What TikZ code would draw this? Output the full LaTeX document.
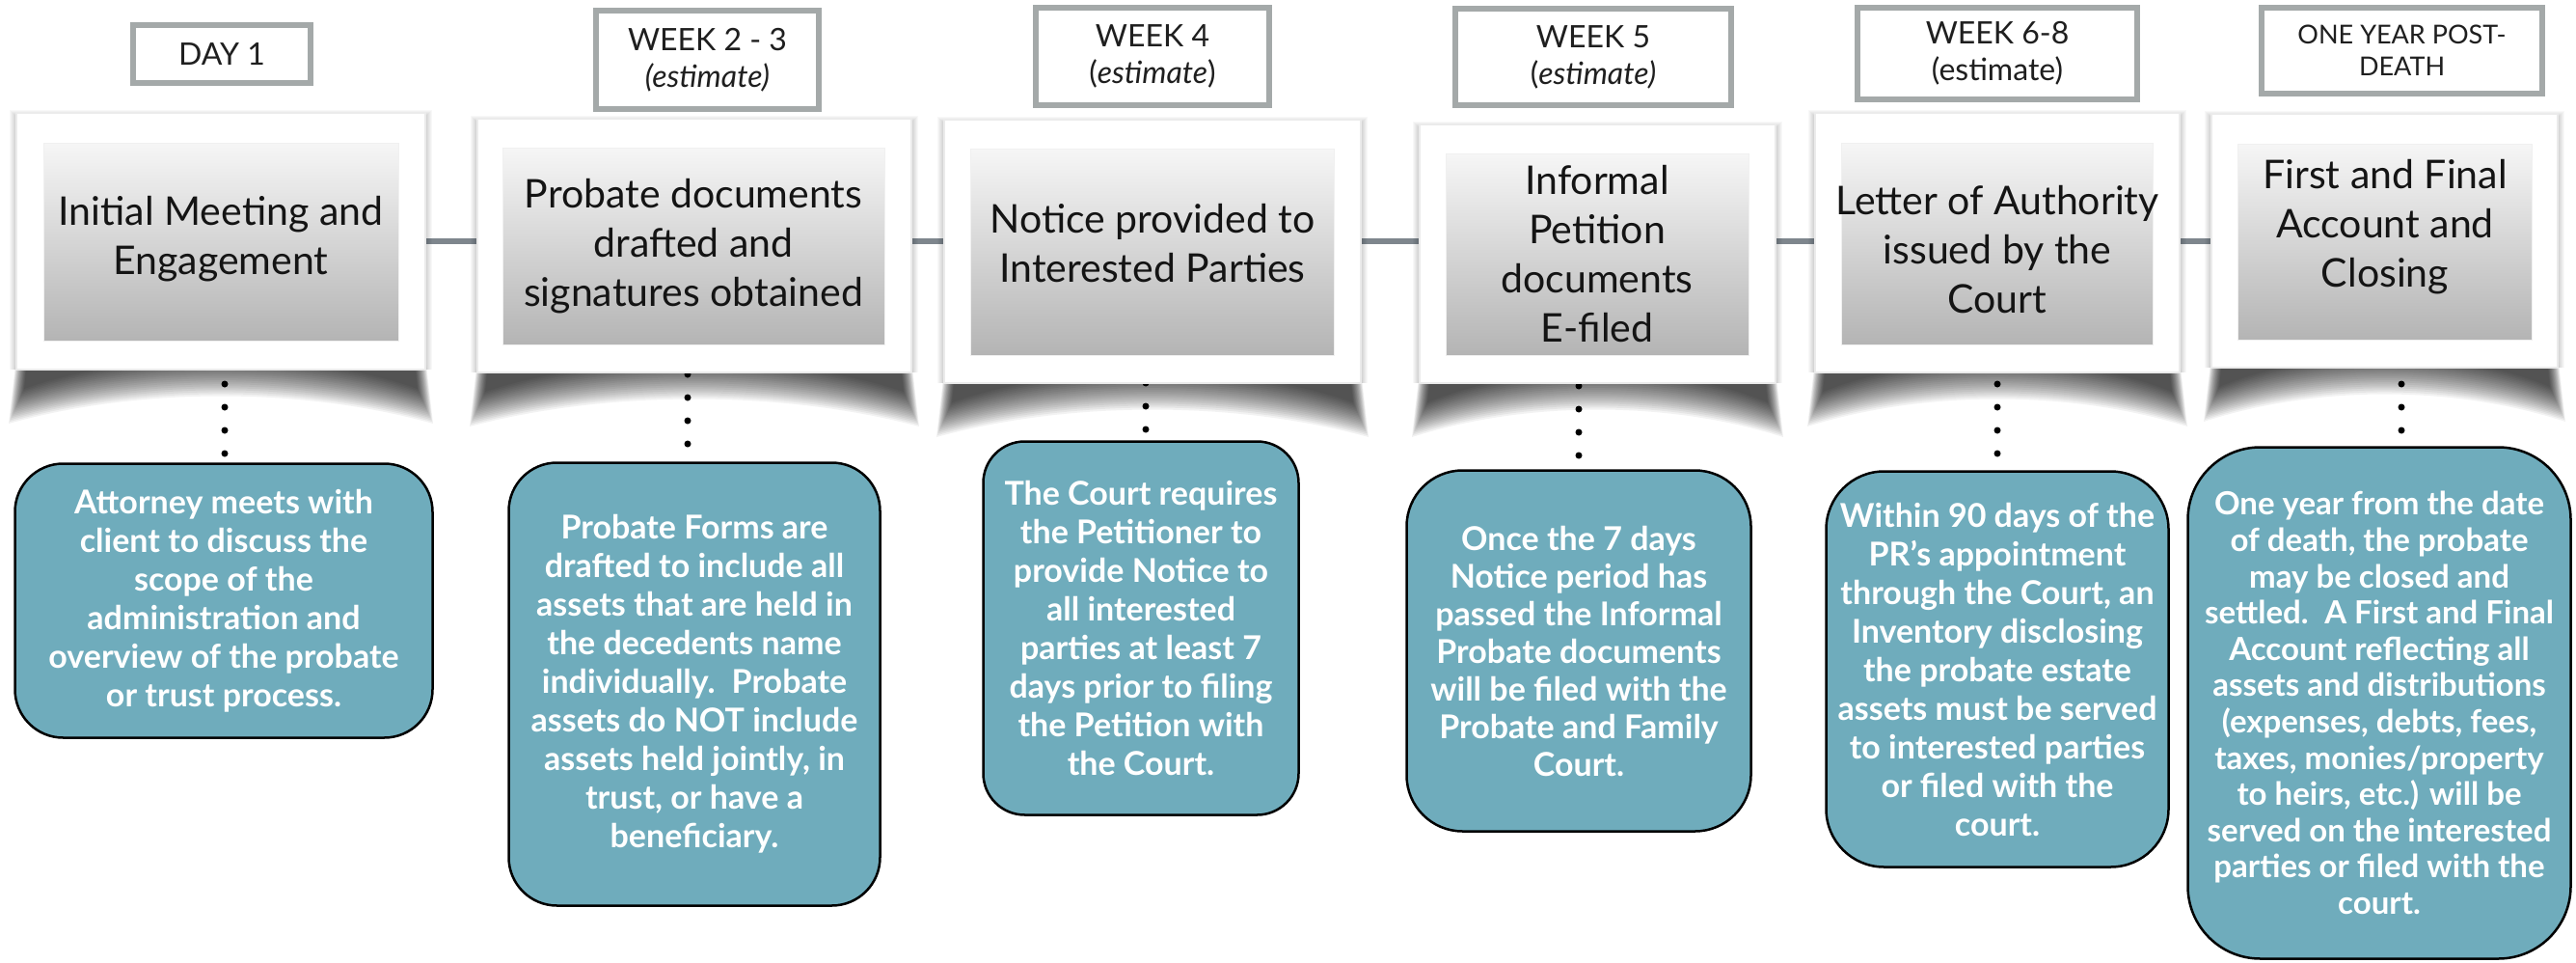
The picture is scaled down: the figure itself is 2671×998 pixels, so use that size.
\documentclass[tikz,border=0pt]{standalone}
\usepackage{fontspec}
\setmainfont{Lato}
\usetikzlibrary{calc}
\pgfdeclarelayer{back}
\pgfsetlayers{back,main}
\definecolor{tealbox}{HTML}{6FACBC}
\definecolor{hdrgray}{HTML}{A4A9A9}
\definecolor{linegray}{HTML}{7E868D}
\definecolor{gradtop}{HTML}{F6F6F6}
\definecolor{gradbot}{HTML}{B4B4B4}
\newcommand\curlshadow[3]{%
  \foreach \k in {0,...,19}{%
    \fill[black,opacity=0.05] ({#1+3+\k*0.6},{#3-40}) -- ({#1-8+\k*0.85},{#3+56-\k*1.9})
      .. controls ({#1+0.3*(#2-#1)},{#3+18-\k*2.1}) and ({#2-0.3*(#2-#1)},{#3+18-\k*2.1}) ..
      ({#2+8-\k*0.85},{#3+56-\k*1.9}) -- ({#2-3-\k*0.6},{#3-40}) -- cycle;
  }}
\newcommand\softshadow[4]{%
  \foreach \k in {1,...,7}{%
    \fill[black,opacity=0.028] ({#1-\k},{#2-\k+4}) rectangle ({#3+\k},{#4});
  }}
\begin{document}
\begin{tikzpicture}[x=1pt,y=-1pt,
  hdr/.style={draw=hdrgray, line width=6pt, fill=white, inner sep=0pt, align=center,
    text=black!88, font=\fontsize{32}{38}\selectfont},
  frame/.style={draw=black!8, line width=1.5pt, fill=white, inner sep=0pt},
  grad/.style={top color=gradtop, bottom color=gradbot, draw=black!6, line width=1pt, inner sep=0pt},
  ftext/.style={align=center, inner sep=0pt, text=black!92, font=\fontsize{41}{51}\selectfont},
  tbox/.style={draw=black, line width=2.5pt, fill=tealbox, text=white, align=center,
    inner sep=0pt, font=\bfseries\fontsize{34}{40}\selectfont},
  conn/.style={draw=linegray, line width=6pt},
  dotl/.style={draw=black, line width=7pt, line cap=round, dash pattern=on 0pt off 24pt}]
\useasboundingbox (0,0) rectangle (2671,998);

% frames
\node[frame, minimum width=424, minimum height=266] (f1) at (229,250) {};
\node[frame, minimum width=450, minimum height=263] (f2) at (720,254.5) {};
\node[frame, minimum width=432, minimum height=273] (f3) at (1195,260.5) {};
\node[frame, minimum width=369, minimum height=268] (f4) at (1656.5,263) {};
\node[frame, minimum width=378, minimum height=269] (f5) at (2071,251.5) {};
\node[frame, minimum width=359, minimum height=263] (f6) at (2472.5,249.5) {};

% inner gradient panels
\node[grad, minimum width=368, minimum height=205] (g1) at (229,250.5) {};
\node[grad, minimum width=396, minimum height=204] (g2) at (719,255) {};
\node[grad, minimum width=377, minimum height=214] (g3) at (1194.5,261) {};
\node[grad, minimum width=314, minimum height=209] (g4) at (1656,263.5) {};
\node[grad, minimum width=323, minimum height=209] (g5) at (2070.5,252.5) {};
\node[grad, minimum width=305, minimum height=203] (g6) at (2472.5,250.5) {};

% panel texts
\node[ftext] (s1) at (229,248) {Initial Meeting and\\Engagement};
\node[ftext] (s2) at (719,255) {Probate documents\\drafted and\\signatures obtained};
\node[ftext] (s3) at (1195,252) {Notice provided to\\Interested Parties};
\node[ftext] (s4) at (1656,263) {Informal\\Petition\\documents\\E-filed};
\node[ftext] (s5) at (2071,259) {Letter of Authority\\issued by the\\Court};
\node[ftext] (s6) at (2473,235) {First and Final\\Account and\\Closing};

% header labels
\node[hdr, minimum width=184, minimum height=60] (h1) at (230,56) {DAY 1};
\node[hdr, minimum width=231, minimum height=102] (h2) at (733.5,62) {WEEK 2 - 3\\\textit{(estimate)}};
\node[hdr, minimum width=242, minimum height=101] (h3) at (1195,58.5) {WEEK 4\\(\textit{estimate})};
\node[hdr, minimum width=286, minimum height=100] (h4) at (1652,59) {WEEK 5\\(\textit{estimate)}};
\node[hdr, minimum width=290, minimum height=95] (h5) at (2071,55.5) {WEEK 6-8\\(estimate)};
\node[hdr, minimum width=291, minimum height=89, font=\fontsize{27}{33}\selectfont] (h6) at (2490.5,52.5) {ONE YEAR POST-\\DEATH};

% teal description boxes
\node[tbox, minimum width=433, minimum height=284, rounded corners=50pt] (t1) at (232,622.5)
  {Attorney meets with\\client to discuss the\\scope of the\\administration and\\overview of the probate\\or trust process.};
\node[tbox, minimum width=385, minimum height=459, rounded corners=50pt] (t2) at (720,709)
  {Probate Forms are\\drafted to include all\\assets that are held in\\the decedents name\\individually.\enspace Probate\\assets do NOT include\\assets held jointly, in\\trust, or have a\\beneficiary.};
\node[tbox, minimum width=327, minimum height=387, rounded corners=43pt] (t3) at (1183,651)
  {The Court requires\\the Petitioner to\\provide Notice to\\all interested\\parties at least 7\\days prior to filing\\the Petition with\\the Court.};
\node[tbox, minimum width=357, minimum height=374, rounded corners=58pt, font=\bfseries\fontsize{34}{39}\selectfont] (t4) at (1637,674.5)
  {Once the 7 days\\Notice period has\\passed the Informal\\Probate documents\\will be filed with the\\Probate and Family\\Court.};
\node[tbox, minimum width=355, minimum height=410, rounded corners=60pt] (t5) at (2071,693.5)
  {Within 90 days of the\\PR’s appointment\\through the Court, an\\Inventory disclosing\\the probate estate\\assets must be served\\to interested parties\\or filed with the\\court.};
\node[tbox, minimum width=397, minimum height=530, rounded corners=75pt, font=\bfseries\fontsize{33}{37.6}\selectfont] (t6) at (2467,728.5)
  {One year from the date\\of death, the probate\\may be closed and\\settled.\enspace A First and Final\\Account reflecting all\\assets and distributions\\(expenses, debts, fees,\\taxes, monies/property\\to heirs, etc.) will be\\served on the interested\\parties or filed with the\\court.};

% dotted connectors from panels to descriptions
\coordinate (d1) at (233,398);
\coordinate (d2) at (713,388);
\coordinate (d3) at (1188,397);
\coordinate (d4) at (1637,400);
\coordinate (d5) at (2071,398);
\coordinate (d6) at (2490,398);
\coordinate (tl) at (0,250);

\begin{pgfonlayer}{back}
  \fill[white] (0,0) rectangle (2671,998);
  \draw[conn] (f1.east |- tl) -- (f6.west |- tl);
  \softshadow{17}{117}{441}{383}
  \softshadow{495}{123}{945}{386}
  \softshadow{979}{124}{1411}{397}
  \softshadow{1472}{129}{1841}{397}
  \softshadow{1882}{117}{2260}{386}
  \softshadow{2293}{118}{2652}{381}
  \curlshadow{17}{441}{383}
  \curlshadow{495}{945}{386}
  \curlshadow{979}{1411}{397}
  \curlshadow{1472}{1841}{397}
  \curlshadow{1882}{2260}{386}
  \curlshadow{2293}{2652}{381}
  \draw[dotl] (d1) -- (d1 |- t1.north);
  \draw[dotl] (d2) -- (d2 |- t2.north);
  \draw[dotl] (d3) -- (d3 |- t3.north);
  \draw[dotl] (d4) -- (d4 |- t4.north);
  \draw[dotl] (d5) -- (d5 |- t5.north);
  \draw[dotl] (d6) -- (d6 |- t6.north);
\end{pgfonlayer}
\end{tikzpicture}
\end{document}
